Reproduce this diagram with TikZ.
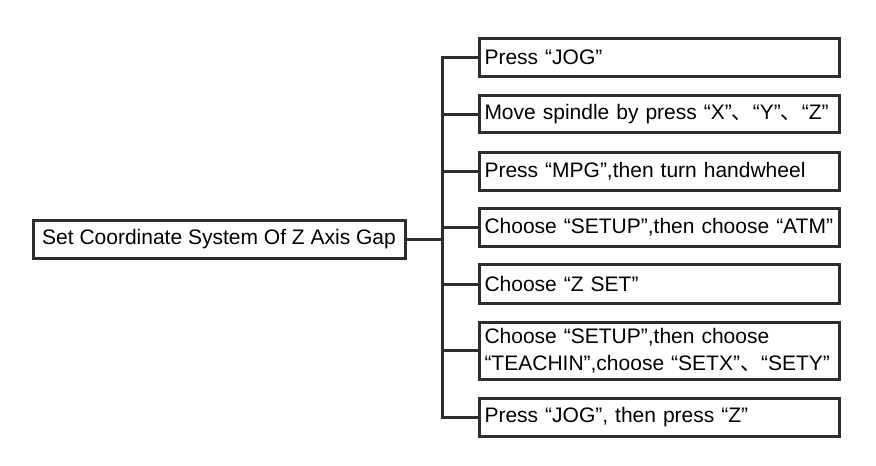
\documentclass[tikz,border=0pt]{standalone}
\usepackage{fontspec}
\setmainfont{Liberation Sans}
\newfontfamily\cjk{Noto Sans CJK SC}
\usepackage{tikz}
\usetikzlibrary{positioning}
\definecolor{linegray}{RGB}{45,45,45}
\newcommand{\dunhao}{{\cjk 、}}

\begin{document}
\begin{tikzpicture}[
    x=1pt, y=-1pt,
    rootbox/.style={draw=linegray, line width=3pt, fill=white, minimum width=372pt, minimum height=38pt, inner sep=4pt, font=\fontsize{21}{27}\selectfont},
    stepbox/.style={draw=linegray, line width=3pt, fill=white, anchor=west, text width=350pt, minimum height=#1, inner xsep=5pt, inner ysep=2pt, align=left, font=\fontsize{21}{27}\selectfont},
    branch/.style={draw=linegray, line width=3pt}
]
    \useasboundingbox (0,0) rectangle (876,466);

    % Root
    \node[rootbox] (root) at (219,239) {Set Coordinate System Of Z Axis Gap};
    \coordinate (fork) at (442,239);

    % Steps
    \node[stepbox=38pt] (jog) at (478,57) {Press “JOG”};
    \node[stepbox=37pt] (move) at (478,114) {Move spindle by press “X”\dunhao“Y”\dunhao“Z”};
    \node[stepbox=38pt] (mpg) at (478,171) {Press “MPG”,then turn handwheel};
    \node[stepbox=38pt] (atm) at (478,227.5) {Choose “SETUP”,then choose “ATM”};
    \node[stepbox=39pt] (zset) at (478,284) {Choose “Z SET”};
    \node[stepbox=57pt] (teach) at (478,350.5) {Choose “SETUP”,then choose\\“TEACHIN”,choose “SETX”\dunhao“SETY”};
    \node[stepbox=38pt] (jogz) at (478,417) {Press “JOG”, then press “Z”};

    % Connections
    \draw[branch] (root) -- (fork);
    \draw[branch] (fork) |- (jog.west);
    \draw[branch] (fork) |- (move.west);
    \draw[branch] (fork) |- (mpg.west);
    \draw[branch] (fork) |- (atm.west);
    \draw[branch] (fork) |- (zset.west);
    \draw[branch] (fork) |- (teach.west);
    \draw[branch] (fork) |- (jogz.west);
\end{tikzpicture}
\end{document}
